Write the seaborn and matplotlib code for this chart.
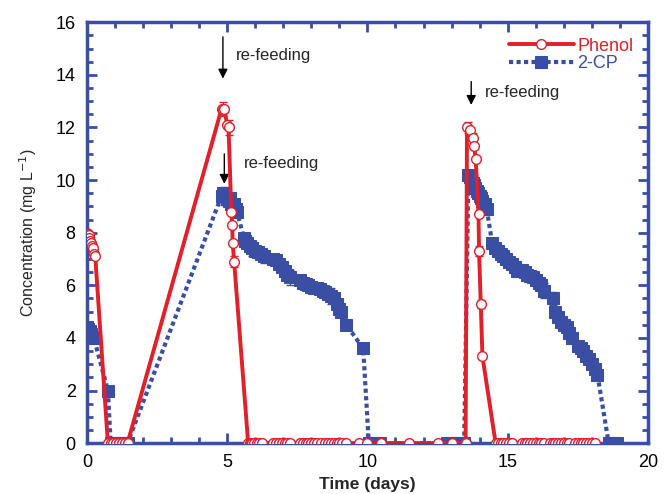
import numpy as np
import pandas as pd
import matplotlib
matplotlib.use('Agg')
import matplotlib.pyplot as plt
import seaborn as sns
from matplotlib.ticker import MultipleLocator

sns.set_style("ticks")
plt.rcParams['font.family'] = ['Liberation Sans', 'DejaVu Sans']

RED = '#e0202a'
BLUE = '#3a4ea3'

# phenol (mg/L) vs time (days)
phenol_t = [0.0, 0.03, 0.06, 0.09, 0.12, 0.15, 0.18, 0.21, 0.25, 0.3,
            0.75, 0.85, 0.95, 1.05, 1.15, 1.25, 1.35, 1.45,
            4.8, 4.85, 4.9, 5.0, 5.05, 5.15, 5.18, 5.2, 5.25,
            5.75, 5.8, 5.85, 5.9, 5.95, 6.05, 6.15, 6.25,
            6.65, 6.75, 6.85, 6.95, 7.05, 7.15, 7.25,
            7.6, 7.7, 7.8, 7.9, 8.0, 8.1, 8.2, 8.35, 8.5, 8.6, 8.7, 8.8, 8.9, 9.0, 9.1, 9.25, 9.7,
            10.0, 10.5, 11.5, 12.5, 13.0, 13.5,
            13.55, 13.65, 13.75, 13.8, 13.86, 13.96, 13.98, 14.04, 14.1,
            14.57, 14.65, 14.75, 14.85, 14.95, 15.05, 15.15,
            15.5, 15.6, 15.7, 15.8, 15.9, 16.0, 16.1, 16.2, 16.3,
            16.5, 16.6, 16.7, 16.8, 16.9, 17.0, 17.1, 17.2,
            17.4, 17.5, 17.6, 17.7, 17.8, 17.9, 18.0, 18.1]
phenol_y = [8.0, 7.95, 7.9, 7.8, 7.7, 7.6, 7.5, 7.4, 7.2, 7.1,
            0, 0, 0, 0, 0, 0, 0, 0,
            12.7, 12.65, 12.7, 12.1, 12.0, 8.8, 8.3, 7.6, 6.9,
            0, 0, 0, 0, 0, 0, 0, 0,
            0, 0, 0, 0, 0, 0, 0,
            0, 0, 0, 0, 0, 0, 0, 0, 0, 0, 0, 0, 0, 0, 0, 0, 0,
            0, 0, 0, 0, 0, 0,
            12.0, 11.9, 11.6, 11.3, 10.8, 8.7, 7.3, 5.3, 3.3,
            0, 0, 0, 0, 0, 0, 0,
            0, 0, 0, 0, 0, 0, 0, 0, 0,
            0, 0, 0, 0, 0, 0, 0, 0,
            0, 0, 0, 0, 0, 0, 0, 0]

# 2-CP (mg/L) vs time (days)
cp_t = [0.0, 0.05, 0.1, 0.15, 0.2, 0.25, 0.75,
        0.85, 0.95, 1.05, 1.15, 1.25, 1.35, 1.45,
        4.8, 4.85, 4.9, 5.0, 5.05, 5.1, 5.15, 5.2, 5.25, 5.3, 5.35,
        5.6, 5.65, 5.7, 5.8, 5.9, 6.0, 6.1, 6.2, 6.3,
        6.65, 6.75, 6.85, 6.95, 7.05, 7.15, 7.25,
        7.6, 7.7, 7.8, 7.9, 8.0, 8.1, 8.2, 8.3, 8.4, 8.5, 8.6,
        8.7, 8.8, 8.9, 9.0, 9.05, 9.25, 9.85,
        10.05, 10.15, 10.25, 10.35, 10.45,
        12.85, 12.95, 13.05, 13.15, 13.3, 13.45,
        13.6, 13.65, 13.7, 13.75, 13.8, 13.85, 13.9, 13.95, 14.0, 14.05, 14.1, 14.2, 14.25,
        14.45, 14.55, 14.65, 14.75, 14.85, 14.95, 15.05, 15.15, 15.25, 15.35,
        15.5, 15.6, 15.7, 15.8, 15.9, 16.0, 16.1, 16.2, 16.3,
        16.6, 16.7, 16.8, 16.9, 17.0, 17.1, 17.2, 17.3,
        17.5, 17.6, 17.7, 17.8, 17.9, 18.0, 18.1, 18.2,
        18.6, 18.7, 18.8, 18.9]
cp_y = [4.4, 4.35, 4.25, 4.15, 4.05, 4.0, 2.0,
        0, 0, 0, 0, 0, 0, 0,
        9.4, 9.5, 9.4, 9.3, 9.2, 9.3, 9.1, 9.0, 9.1, 8.9, 8.8,
        7.8, 7.7, 7.6, 7.5, 7.4, 7.3, 7.25, 7.2, 7.1,
        7.0, 6.95, 6.8, 6.7, 6.55, 6.4, 6.3,
        6.2, 6.1, 6.05, 6.0, 5.95, 5.9, 5.9, 5.85, 5.8, 5.75, 5.65,
        5.6, 5.5, 5.3, 5.1, 5.0, 4.5, 3.6,
        0, 0, 0, 0, 0,
        0, 0, 0, 0, 0, 0,
        10.2, 10.1, 10.0, 9.9, 9.8, 9.7, 9.6, 9.5, 9.4, 9.3, 9.2, 9.1, 8.9,
        7.6, 7.4, 7.3, 7.2, 7.1, 7.0, 6.9, 6.8, 6.7, 6.55,
        6.6, 6.5, 6.4, 6.35, 6.3, 6.2, 6.1, 6.0, 5.8,
        5.5, 5.0, 4.8, 4.6, 4.5, 4.4, 4.2, 4.0,
        3.7, 3.6, 3.5, 3.3, 3.2, 3.0, 2.8, 2.6,
        0, 0, 0, 0]

# a few standard deviations visible on the picture
phenol_err_t = [4.85, 5.05, 5.25, 13.6, 13.75, 13.98, 14.04]
phenol_err_y = [12.7, 12.0, 6.9, 12.0, 11.6, 7.3, 5.3]
phenol_err = [0.25, 0.3, 0.2, 0.2, 0.2, 0.2, 0.15]
cp_err_t = [4.9, 5.0, 5.9, 6.3, 7.0, 7.25, 8.5, 8.7, 13.65, 14.0, 15.3, 16.3, 16.6]
cp_err_y = [9.4, 9.3, 7.4, 7.1, 6.6, 6.3, 5.75, 5.6, 10.1, 9.4, 6.6, 5.8, 5.5]
cp_err = [0.35, 0.3, 0.3, 0.25, 0.2, 0.3, 0.2, 0.3, 0.25, 0.3, 0.25, 0.3, 0.25]

fig = plt.figure(figsize=(6.68, 4.94), dpi=100)
ax = fig.add_axes([0.130, 0.103, 0.840, 0.852])

ax.errorbar(phenol_err_t, phenol_err_y, yerr=phenol_err, fmt='none',
            ecolor=RED, elinewidth=1, capsize=3, zorder=2)
ax.errorbar(cp_err_t, cp_err_y, yerr=cp_err, fmt='none',
            ecolor=BLUE, elinewidth=1, capsize=3, zorder=2)

sns.lineplot(x=cp_t, y=cp_y, sort=False, estimator=None, ax=ax,
             color=BLUE, linewidth=3, linestyle=(0, (1, 0.8)),
             marker='s', markersize=8, markerfacecolor=BLUE,
             markeredgecolor=BLUE, label='2-CP', zorder=3)
sns.lineplot(x=phenol_t, y=phenol_y, sort=False, estimator=None, ax=ax,
             color=RED, linewidth=2.8, linestyle='-',
             marker='o', markersize=7, markerfacecolor='white',
             markeredgecolor=RED, markeredgewidth=1, label='Phenol', zorder=4)

ax.set_xlim(0, 20)
ax.set_ylim(0, 16)
ax.xaxis.set_major_locator(MultipleLocator(5))
ax.xaxis.set_minor_locator(MultipleLocator(1))
ax.yaxis.set_major_locator(MultipleLocator(2))
ax.yaxis.set_minor_locator(MultipleLocator(0.5))
for s in ax.spines.values():
    s.set_visible(True)
    s.set_color(BLUE)
    s.set_linewidth(2.5)
ax.tick_params(which='both', direction='in', top=True, right=True,
               color=BLUE, width=2, labelsize=13, labelcolor='black')
ax.tick_params(which='major', length=7)
ax.tick_params(which='minor', length=4)
ax.tick_params(axis='x', which='major', pad=8)
ax.tick_params(axis='y', which='major', pad=8)

ax.set_xlabel('Time (days)', fontsize=12.5, fontweight='bold', labelpad=4)
ax.set_ylabel('Concentration (mg L$^{-1}$)', fontsize=11.5, labelpad=12)

handles, labels = ax.get_legend_handles_labels()
leg = ax.legend(handles[::-1], labels[::-1], loc='upper right', frameon=False,
                fontsize=13, handlelength=3.6, handletextpad=0.2,
                borderaxespad=0.1, labelspacing=0.05,
                bbox_to_anchor=(0.99, 0.985))
for txt, col in zip(leg.get_texts(), [RED, BLUE]):
    txt.set_color(col)

arrow = dict(arrowstyle='-|>', color='black', lw=1, mutation_scale=14)
ax.annotate('', xy=(4.85, 13.75), xytext=(4.85, 15.55), arrowprops=arrow)
ax.text(5.3, 14.55, 're-feeding', fontsize=12)
ax.annotate('', xy=(4.9, 9.75), xytext=(4.9, 11.1), arrowprops=arrow)
ax.text(5.6, 10.45, 're-feeding', fontsize=12)
ax.annotate('', xy=(13.7, 12.75), xytext=(13.7, 13.85), arrowprops=arrow)
ax.text(14.2, 13.15, 're-feeding', fontsize=12)

fig.savefig('out.png', dpi=100)
